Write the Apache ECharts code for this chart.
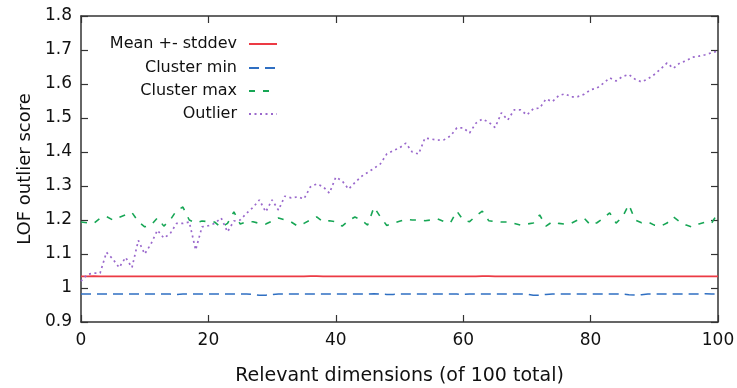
<!DOCTYPE html>
<html>
<head>
<meta charset="utf-8">
<script src="https://cdn.jsdelivr.net/npm/echarts@6/dist/echarts.min.js"></script>
<style>
html,body{margin:0;padding:0;background:#fff;}
#chart{width:737px;height:388px;}
</style>
</head>
<body>
<div id="chart"></div>
<script>
// x = relevant dimensions, 0..100 (one value per step)
var meanVals = [
  1.034,1.034,1.035,1.034,1.034,1.034,1.034,1.034,1.034,1.034,
  1.034,1.034,1.034,1.034,1.034,1.034,1.034,1.034,1.034,1.034,
  1.034,1.034,1.034,1.034,1.034,1.034,1.034,1.034,1.034,1.034,
  1.034,1.034,1.034,1.034,1.034,1.034,1.035,1.035,1.034,1.034,
  1.034,1.034,1.034,1.034,1.034,1.034,1.034,1.034,1.034,1.034,
  1.034,1.034,1.034,1.034,1.034,1.034,1.034,1.034,1.034,1.034,
  1.034,1.034,1.034,1.035,1.035,1.034,1.034,1.034,1.034,1.034,
  1.034,1.034,1.034,1.034,1.034,1.034,1.034,1.034,1.034,1.034,
  1.034,1.034,1.034,1.034,1.034,1.034,1.034,1.034,1.034,1.034,
  1.034,1.034,1.034,1.034,1.034,1.034,1.034,1.034,1.034,1.034,
  1.034
];
var clusterMin = [
  0.982,0.982,0.982,0.982,0.982,0.982,0.982,0.982,0.982,0.982,
  0.982,0.982,0.982,0.982,0.982,0.981,0.982,0.982,0.982,0.982,
  0.982,0.982,0.982,0.982,0.982,0.982,0.982,0.981,0.979,0.979,
  0.981,0.982,0.982,0.982,0.982,0.982,0.982,0.982,0.982,0.982,
  0.982,0.982,0.982,0.982,0.982,0.982,0.983,0.982,0.981,0.981,
  0.982,0.982,0.982,0.982,0.982,0.982,0.982,0.982,0.982,0.982,
  0.981,0.982,0.982,0.982,0.982,0.982,0.982,0.982,0.982,0.982,
  0.982,0.979,0.979,0.981,0.982,0.982,0.982,0.982,0.982,0.982,
  0.982,0.982,0.982,0.982,0.982,0.982,0.980,0.979,0.980,0.982,
  0.982,0.982,0.982,0.982,0.982,0.982,0.982,0.982,0.983,0.982,
  0.982
];
var clusterMax = [
  1.194,1.192,1.190,1.205,1.210,1.200,1.208,1.215,1.222,1.195,
  1.180,1.185,1.206,1.182,1.200,1.228,1.238,1.200,1.192,1.197,
  1.195,1.194,1.178,1.190,1.224,1.188,1.195,1.195,1.190,1.188,
  1.197,1.206,1.200,1.194,1.182,1.190,1.200,1.209,1.195,1.198,
  1.195,1.182,1.198,1.209,1.200,1.185,1.238,1.209,1.184,1.190,
  1.196,1.202,1.200,1.200,1.198,1.200,1.203,1.195,1.192,1.226,
  1.200,1.195,1.212,1.226,1.198,1.195,1.194,1.194,1.190,1.185,
  1.188,1.191,1.215,1.182,1.195,1.190,1.188,1.191,1.200,1.205,
  1.185,1.192,1.205,1.221,1.191,1.209,1.245,1.200,1.192,1.194,
  1.185,1.182,1.191,1.209,1.195,1.185,1.179,1.188,1.194,1.191,
  1.221
];
var outlier = [
  1.020,1.040,1.044,1.044,1.105,1.085,1.060,1.090,1.060,1.140,
  1.100,1.130,1.170,1.147,1.160,1.190,1.190,1.194,1.112,1.180,
  1.183,1.190,1.206,1.165,1.197,1.200,1.220,1.237,1.259,1.224,
  1.259,1.229,1.270,1.265,1.268,1.262,1.297,1.306,1.298,1.279,
  1.326,1.315,1.291,1.310,1.328,1.340,1.352,1.365,1.394,1.404,
  1.412,1.426,1.400,1.394,1.441,1.438,1.435,1.436,1.447,1.471,
  1.471,1.456,1.485,1.497,1.488,1.472,1.515,1.494,1.524,1.524,
  1.509,1.527,1.529,1.556,1.548,1.566,1.571,1.562,1.563,1.570,
  1.583,1.588,1.602,1.618,1.609,1.622,1.628,1.614,1.606,1.615,
  1.628,1.644,1.662,1.646,1.662,1.668,1.679,1.682,1.686,1.692,
  1.697
];
var seriesNames = ['Mean +- stddev', 'Cluster min', 'Cluster max', 'Outlier'];
var xTicks = [0, 20, 40, 60, 80, 100];
var yTicks = [0.9, 1.8, 0.1]; // min, max, step

var FONT = 'DejaVu Sans';
var AX = '#333';

function pts(arr) {
  return arr.map(function (v, i) { return [i, v]; });
}

// one legend per entry so that texts line up on the right like gnuplot's key
function legendAt(name, top) {
  return {
    data: [name],
    orient: 'vertical',
    align: 'right',
    right: 454,
    top: top,
    itemWidth: 28,
    itemHeight: 14,
    itemGap: 0,
    selectedMode: false,
    itemStyle: { opacity: 0 },
    textStyle: { fontFamily: FONT, fontSize: 16, color: '#111', padding: [0, 7, 0, 0] }
  };
}

var chart = echarts.init(document.getElementById('chart'), null, { renderer: 'canvas' });

chart.setOption({
  animation: false,
  backgroundColor: '#fff',
  textStyle: { fontFamily: FONT },
  grid: { left: 81, right: 19, top: 16, bottom: 66, outerBoundsMode: 'none' },
  legend: [
    legendAt(seriesNames[0], 31),
    legendAt(seriesNames[1], 55),
    legendAt(seriesNames[2], 78),
    legendAt(seriesNames[3], 101)
  ],
  xAxis: [{
    type: 'value',
    min: xTicks[0], max: xTicks[xTicks.length - 1], interval: 20,
    name: 'Relevant dimensions (of 100 total)',
    nameLocation: 'middle', nameGap: 45,
    nameTextStyle: { fontFamily: FONT, fontSize: 19, color: '#111' },
    axisLine: { onZero: false, lineStyle: { color: AX, width: 1.5 } },
    axisTick: { inside: true, length: 7, lineStyle: { color: AX, width: 1.2 } },
    axisLabel: { fontFamily: FONT, fontSize: 17, color: '#111', margin: 10 },
    splitLine: { show: false }
  }, {
    type: 'value', position: 'top',
    min: xTicks[0], max: xTicks[xTicks.length - 1], interval: 20,
    axisLine: { onZero: false, lineStyle: { color: AX, width: 1.5 } },
    axisTick: { inside: true, length: 7, lineStyle: { color: AX, width: 1.2 } },
    axisLabel: { show: false },
    splitLine: { show: false }
  }],
  yAxis: [{
    type: 'value',
    min: yTicks[0], max: yTicks[1], interval: yTicks[2],
    name: 'LOF outlier score',
    nameLocation: 'middle', nameGap: 38, nameRotate: 90,
    nameTextStyle: { fontFamily: FONT, fontSize: 18, color: '#111' },
    axisLine: { show: true, onZero: false, lineStyle: { color: AX, width: 1.5 } },
    axisTick: { show: true, inside: true, length: 7, lineStyle: { color: AX, width: 1.2 } },
    axisLabel: {
      fontFamily: FONT, fontSize: 17, color: '#111', margin: 9,
      formatter: function (v) { return String(Math.round(v * 10) / 10); }
    },
    splitLine: { show: false }
  }, {
    type: 'value', position: 'right',
    min: yTicks[0], max: yTicks[1], interval: yTicks[2],
    axisLine: { show: true, onZero: false, lineStyle: { color: AX, width: 1.5 } },
    axisTick: { show: true, inside: true, length: 7, lineStyle: { color: AX, width: 1.2 } },
    axisLabel: { show: false },
    splitLine: { show: false }
  }],
  series: [{
    name: seriesNames[0], type: 'line', showSymbol: false, symbol: 'none',
    data: pts(meanVals), color: '#ec3a44',
    lineStyle: { color: '#ec3a44', width: 1.8 }, z: 3
  }, {
    name: seriesNames[1], type: 'line', showSymbol: false, symbol: 'none',
    data: pts(clusterMin), color: '#2f6fc2',
    lineStyle: { color: '#2f6fc2', width: 1.5, type: [10, 6] }, z: 3
  }, {
    name: seriesNames[2], type: 'line', showSymbol: false, symbol: 'none',
    data: pts(clusterMax), color: '#17a655',
    lineStyle: { color: '#17a655', width: 1.6, type: [6, 8] }, z: 3
  }, {
    name: seriesNames[3], type: 'line', showSymbol: false, symbol: 'none',
    data: pts(outlier), color: '#9a68cc',
    lineStyle: { color: '#9a68cc', width: 1.7, type: [2, 3.5] }, z: 4
  }]
});
</script>
</body>
</html>
